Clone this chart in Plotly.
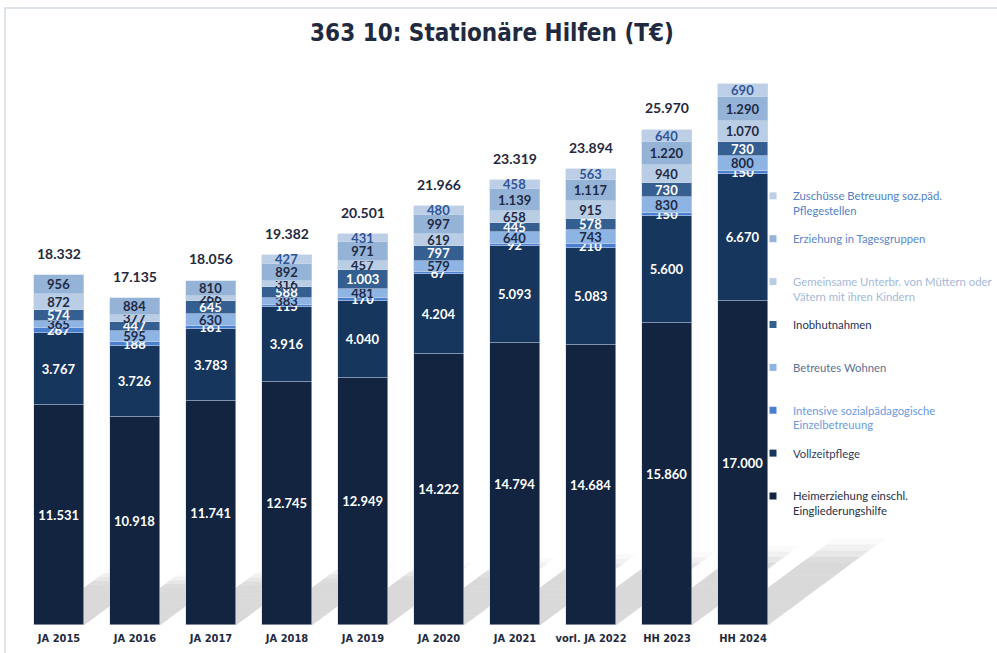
import plotly.graph_objects as go

categories = ["JA 2015", "JA 2016", "JA 2017", "JA 2018", "JA 2019", "JA 2020",
              "JA 2021", "vorl. JA 2022", "HH 2023", "HH 2024"]

heimerziehung = [11531, 10918, 11741, 12745, 12949, 14222, 14794, 14684, 15860, 17000]
vollzeitpflege = [3767, 3726, 3783, 3916, 4040, 4204, 5093, 5083, 5600, 6670]
intensive = [267, 188, 181, 115, 170, 67, 92, 210, 150, 150]
betreutes_wohnen = [365, 595, 630, 383, 481, 579, 640, 743, 830, 800]
inobhutnahmen = [574, 447, 645, 588, 1003, 797, 445, 578, 730, 730]
gemeinsame = [872, 377, 266, 316, 457, 619, 658, 915, 940, 1070]
tagesgruppen = [956, 884, 810, 892, 971, 997, 1139, 1117, 1220, 1290]
zuschuesse = [None, None, None, 427, 431, 480, 458, 563, 640, 690]

total_labels = [18332, 17135, 18056, 19382, 20501, 21966, 23319, 23894, 25970, None]

series = [
    # name, values, bar colour, label colour, legend text colour
    ("Heimerziehung einschl.<br>Eingliederungshilfe", heimerziehung, "#12243f", "#ffffff", "#263047"),
    ("Vollzeitpflege<br>&nbsp;", vollzeitpflege, "#17365d", "#ffffff", "#2c3d5c"),
    ("Intensive sozialpädagogische<br>Einzelbetreuung", intensive, "#4a7fcf", "#ffffff", "#6a9ae0"),
    ("Betreutes Wohnen<br>&nbsp;", betreutes_wohnen, "#8db4e2", "#1f2a44", "#5a7196"),
    ("Inobhutnahmen<br>&nbsp;", inobhutnahmen, "#355f91", "#ffffff", "#1f3355"),
    ("Gemeinsame Unterbr. von Müttern oder<br>Vätern mit ihren Kindern", gemeinsame, "#b9cde5", "#1f2a44", "#a3b9da"),
    ("Erziehung in Tagesgruppen<br>&nbsp;", tagesgruppen, "#95b3d7", "#1f2a44", "#5b87c9"),
    ("Zuschüsse Betreuung soz.päd.<br>Pflegestellen", zuschuesse, "#bccfe7", "#2f5597", "#4f80c8"),
]

xpos = list(range(len(categories)))
BAR_W = 0.67

fig = go.Figure()

for name, vals, col, lab_col, _ in series:
    fig.add_trace(go.Bar(
        x=xpos, y=vals, width=BAR_W,
        marker=dict(color=col, line=dict(color="rgba(205,218,236,0.7)", width=0.8)),
        texttemplate="%{y:,.0f}", textposition="inside", insidetextanchor="middle",
        textangle=0,
        textfont=dict(family="Lato, DejaVu Sans, sans-serif", size=13, color=lab_col,
                      weight="bold"),
        showlegend=False, hoverinfo="skip", cliponaxis=False,
    ))

# legend-only entries (small square markers), top series first
for i, (name, vals, col, lab_col, leg_col) in reversed(list(enumerate(series))):
    fig.add_trace(go.Scatter(
        x=[None], y=[None], mode="markers",
        marker=dict(symbol="square", size=7, color=col),
        name=f"<span style='color:{leg_col}'>{name}</span>",
        legendgroup=f"g{i}", showlegend=True,
    ))

# totals above bars
totals = [sum(v or 0 for v in col) for col in zip(*[s[1] for s in series])]
for i, lab in enumerate(total_labels):
    if lab is None:
        continue
    fig.add_annotation(
        x=xpos[i], y=totals[i], text=f"{lab:,}".replace(",", "."),
        showarrow=False, yshift=22, yanchor="middle",
        font=dict(family="Lato, DejaVu Sans, sans-serif", size=14, color="#1f2a40", weight="bold"),
    )

# perspective shadows behind bars (derived from bar totals)
YMAX = 30000
PLOT_H = 572
UNIT_PX = 76
shapes = []
NB = 14
for i, T in enumerate(totals):
    h = 0.16 * T
    h_px = h * PLOT_H / YMAX
    dx = h_px * 1.35 / UNIT_PX
    xl, xr = xpos[i] - BAR_W / 2, xpos[i] + BAR_W / 2
    for k in range(NB):
        t0, t1 = k / NB, (k + 1) / NB
        tm = (t0 + t1) / 2
        op = 0.33 if tm < 0.72 else 0.33 * (1 - (tm - 0.72) / 0.28)
        path = (f"M {xl + dx * t0},{h * t0} L {xr + dx * t0},{h * t0} "
                f"L {xr + dx * t1},{h * t1} L {xl + dx * t1},{h * t1} Z")
        shapes.append(dict(type="path", path=path, xref="x", yref="y",
                           fillcolor=f"rgba(140,140,140,{op:.3f})",
                           line=dict(width=0), layer="below"))

# outer frame
shapes.append(dict(type="rect", xref="paper", yref="paper",
                   x0=(5 - 21) / 955, x1=1.1, y0=-0.2, y1=(625 - 8) / 572,
                   line=dict(color="#d3dbe6", width=1.5), fillcolor="rgba(0,0,0,0)",
                   layer="below"))

fig.update_layout(
    width=997, height=653,
    margin=dict(l=21, r=21, t=53, b=28, autoexpand=False),
    paper_bgcolor="white", plot_bgcolor="white",
    barmode="stack", bargap=0,
    separators=",.",
    shapes=shapes,
    uniformtext=dict(minsize=13, mode="show"),
    title=dict(text="363 10: Stationäre Hilfen (T€)", x=492 / 997, xref="container",
               y=1 - 33 / 653, yref="container", xanchor="center", yanchor="middle",
               font=dict(family="DejaVu Sans Condensed, Liberation Sans Narrow, sans-serif",
                         size=24, color="#1f2a40", weight="bold")),
    xaxis=dict(range=[-0.5, 955 / UNIT_PX - 0.5], tickvals=xpos, ticktext=categories,
               showgrid=False, zeroline=False, showline=False, ticks="",
               ticklabelstandoff=5,
               tickfont=dict(family="DejaVu Sans Condensed, Liberation Sans Narrow, sans-serif",
                             size=11, color="#1f2a40", weight="bold")),
    yaxis=dict(range=[0, YMAX], visible=False, showgrid=False, zeroline=False),
    legend=dict(x=753 / 997, xref="container", xanchor="left",
                y=1 - 182 / 653, yref="container", yanchor="top",
                maxheight=430,
                traceorder="grouped", tracegroupgap=10.5, itemsizing="trace",
                bgcolor="rgba(0,0,0,0)", valign="top",
                font=dict(family="Lato, DejaVu Sans, sans-serif", size=11.3)),
)

fig.write_html("out.html", config={"displayModeBar": False},
               post_script="document.body.style.margin='0';")
